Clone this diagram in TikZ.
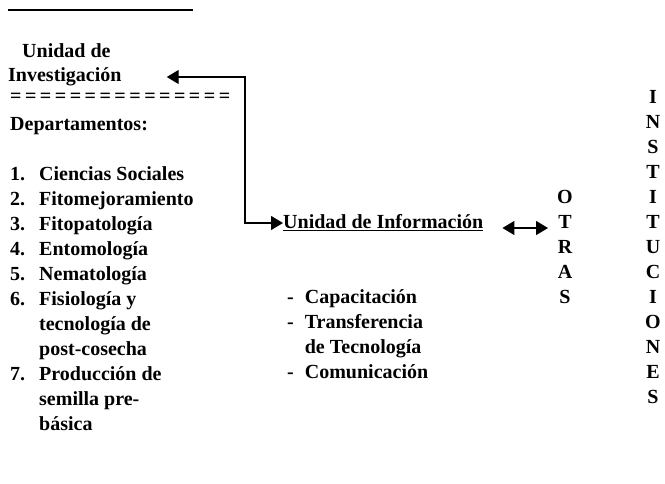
\documentclass[tikz,border=0pt]{standalone}
\usepackage{fontspec}
\setmainfont{Liberation Serif}
\usetikzlibrary{arrows.meta}

\begin{document}
\begin{tikzpicture}[x=1pt, y=-1pt,
    every node/.style={inner sep=0pt, font=\fontsize{20}{25}\selectfont\bfseries},
    txt/.style={anchor=west},
    letters/.style={align=center},
    both/.style={line width=1.4pt, {Triangle[length=12pt,width=14pt]}-{Triangle[length=12pt,width=14pt]}}]

    \useasboundingbox (0,0) rectangle (665,483);

    % Unidad de Investigacion
    \draw[line width=1.5pt] (8,10) -- (193,10);
    \node[txt] (unidad) at (22,51) {Unidad de};
    \node[txt] (invest) at (8,77) {Investigación};
    \node[txt] (eqline) at (10,98) {\foreach \k in {1,...,15}{=\kern3.5pt}};
    \node[txt] (depto) at (10,126) {Departamentos:};
    \node[txt] (deptlist) at (10,300) {\begin{tabular}{@{}l@{\hspace{14pt}}l@{}}
        1. & Ciencias Sociales\\
        2. & Fitomejoramiento\\
        3. & Fitopatología\\
        4. & Entomología\\
        5. & Nematología\\
        6. & Fisiología y\\
           & tecnología de\\
           & post-cosecha\\
        7. & Producción de\\
           & semilla pre-\\
           & básica
    \end{tabular}};

    % Unidad de Informacion
    \node[txt] (info) at (283,223) {\underline{Unidad de Información}};
    \node[txt] (servicios) at (287,336) {\begin{tabular}{@{}l@{\hspace{11pt}}l@{}}
        - & Capacitación\\
        - & Transferencia\\
          & de Tecnología\\
        - & Comunicación
    \end{tabular}};

    % otras instituciones
    \node[letters] (otras) at (565,247) {O\\T\\R\\A\\S};
    \node[letters] (inst) at (653,247) {I\\N\\S\\T\\I\\T\\U\\C\\I\\O\\N\\E\\S};

    % connectors
    \coordinate (bus) at (245,150);
    \draw[both] ([xshift=45pt]invest.east) -| (bus) |- (info.west);
    \draw[both] ([xshift=19pt,yshift=-5pt]info.east) -- ([xshift=-9pt,yshift=-5pt]info.east -| otras.west);

\end{tikzpicture}
\end{document}
